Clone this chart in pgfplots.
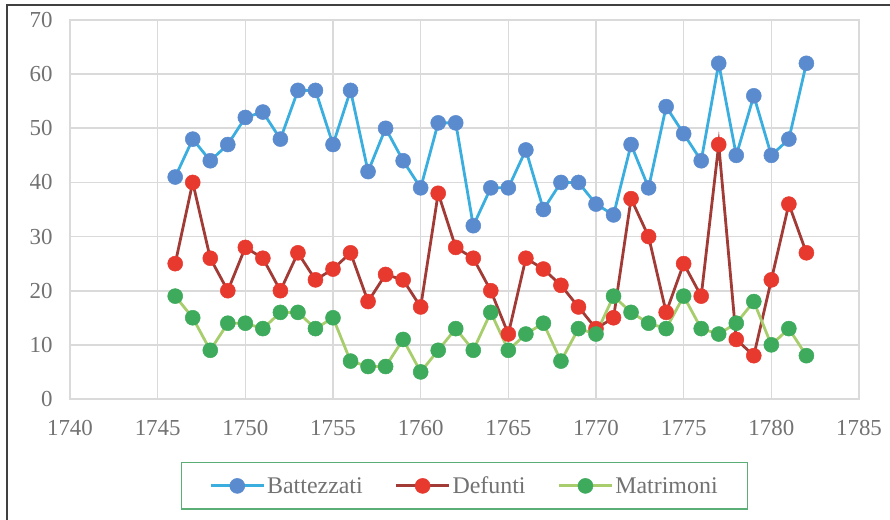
\documentclass[border=0pt]{standalone}
\usepackage{pgfplots}
\pgfplotsset{compat=1.18}
\usepackage{fontspec}
\setmainfont{Liberation Serif}
\definecolor{bline}{HTML}{3BAEE0}
\definecolor{bmark}{HTML}{5B8BCF}
\definecolor{rline}{HTML}{A23B36}
\definecolor{rmark}{HTML}{E8392F}
\definecolor{gline}{HTML}{A8CD6C}
\definecolor{gmark}{HTML}{3DAA5C}
\definecolor{gridc}{HTML}{DADADA}
\definecolor{txt}{HTML}{727272}
\definecolor{legb}{HTML}{5BAE76}
\pgfplotstableread{
year bat def mat
1746 41 25 19
1747 48 40 15
1748 44 26 9
1749 47 20 14
1750 52 28 14
1751 53 26 13
1752 48 20 16
1753 57 27 16
1754 57 22 13
1755 47 24 15
1756 57 27 7
1757 42 18 6
1758 50 23 6
1759 44 22 11
1760 39 17 5
1761 51 38 9
1762 51 28 13
1763 32 26 9
1764 39 20 16
1765 39 12 9
1766 46 26 12
1767 35 24 14
1768 40 21 7
1769 40 17 13
1770 36 13 12
1771 34 15 19
1772 47 37 16
1773 39 30 14
1774 54 16 13
1775 49 25 19
1776 44 19 13
1777 62 47 12
1778 45 11 14
1779 56 8 18
1780 45 22 10
1781 48 36 13
1782 62 27 8
}\datatable
\begin{document}
\begin{tikzpicture}
\useasboundingbox (-70bp,-121bp) rectangle (820bp,399bp);
\draw[line width=1.5bp, color=black!75] (-63bp,-125bp) -- (-63bp,394bp) -- (825bp,394bp);
\begin{axis}[
  scale only axis,
  width=789bp, height=379bp,
  xmin=1740, xmax=1785, ymin=0, ymax=70,
  xtick={1740,1745,...,1785},
  ytick={0,10,...,70},
  xticklabel style={/pgf/number format/1000 sep={}, yshift=-18bp},
  yticklabel style={xshift=-14bp},
  /pgf/number format/assume math mode=true,
  tick label style={font=\fontsize{23}{25}\selectfont, text=txt},
  major tick length=0pt,
  grid=major,
  major grid style={color=gridc, line width=1.6bp},
  axis line style={color=gridc, line width=1.6bp},
  legend columns=3,
  legend style={at={(0.5,-0.1662)}, anchor=north, draw=legb, line width=1.5bp,
    font=\fontsize{24}{26}\selectfont, text=txt,
    inner xsep=28bp, inner ysep=12bp,
    /tikz/every even column/.append style={column sep=30bp}},
  legend cell align=left,
  legend image code/.code={\draw[mark repeat=2,mark phase=2,#1] plot coordinates {(0bp,0bp) (26.5bp,0bp) (53bp,0bp)};},
]
\addplot[color=bline, line width=2.8bp, mark=*, mark size=7.5bp, mark options={draw=bmark, fill=bmark, line width=0.5bp}] table[x=year,y=bat]{\datatable};
\addlegendentry{Battezzati}
\addplot[color=rline, line width=2.8bp, mark=*, mark size=7.5bp, mark options={draw=rmark, fill=rmark, line width=0.5bp}] table[x=year,y=def]{\datatable};
\addlegendentry{Defunti}
\addplot[color=gline, line width=2.8bp, mark=*, mark size=7.5bp, mark options={draw=gmark, fill=gmark, line width=0.5bp}] table[x=year,y=mat]{\datatable};
\addlegendentry{Matrimoni}
\end{axis}
\end{tikzpicture}
\end{document}
